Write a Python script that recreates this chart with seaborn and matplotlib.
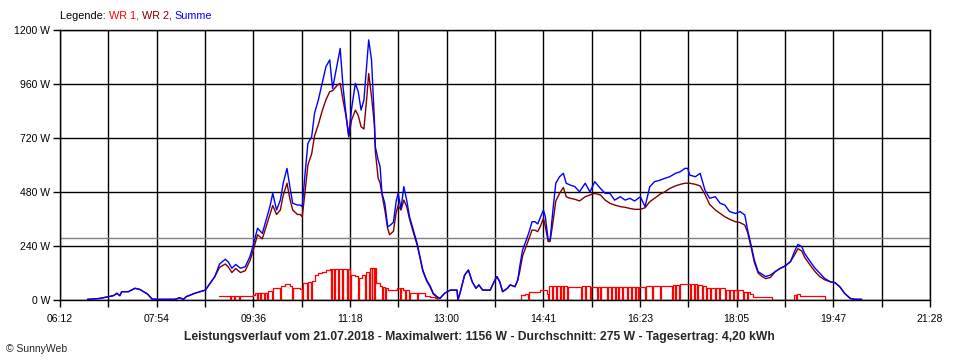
import numpy as np
import pandas as pd
import matplotlib
matplotlib.use("Agg")
import matplotlib.pyplot as plt
import seaborn as sns

# Zeit in Minuten nach Mitternacht, Leistung in W
minute = [401, 409, 414, 423, 428, 432, 435, 437, 444, 451, 456, 464, 469, 477, 493, 498, 502, 505,
          514, 525, 530, 535, 540, 546, 549, 553, 557, 562, 567, 572, 575, 580, 585, 589, 593, 596,
          600, 604, 607, 611, 614, 617, 622, 625, 627, 630, 633, 637, 640, 644, 648, 652, 656, 659,
          664, 667, 670, 673, 676, 679, 683, 686, 689, 692, 695, 697, 700, 703, 704, 707, 709, 711,
          714, 717, 719, 723, 726, 728, 731, 734, 737, 740, 744, 748, 751, 754, 758, 762, 765, 769,
          772, 777, 783, 790, 791, 794, 798, 802, 806, 810, 813, 817, 825, 829, 832, 835, 838, 843,
          846, 851, 854, 856, 859, 863, 866, 869, 872, 875, 878, 881, 883, 886, 888, 891, 894, 898,
          902, 905, 909, 914, 919, 925, 930, 935, 941, 946, 951, 956, 962, 967, 972, 977, 983, 988,
          993, 998, 1004, 1009, 1014, 1020, 1025, 1030, 1033, 1035, 1041, 1046, 1051, 1056, 1062,
          1067, 1072, 1077, 1083, 1088, 1093, 1096, 1100, 1103, 1107, 1111, 1115, 1120, 1125, 1130,
          1135, 1141, 1146, 1149, 1153, 1156, 1162, 1167, 1172, 1177, 1183, 1188, 1193, 1198, 1204,
          1209, 1216]
summe = [3, 5, 7, 15, 19, 30, 19, 37, 37, 52, 47, 27, 4, 3, 3, 10, 3, 15,
         30, 44, 74, 104, 160, 181, 170, 141, 158, 141, 148, 193, 237, 319, 296, 356, 415, 474,
         400, 444, 519, 585, 504, 430, 422, 422, 415, 560, 696, 726, 830, 889, 963, 1037, 1067, 940,
         1052, 1118, 948, 830, 730, 850, 963, 926, 844, 889, 1052, 1156, 1067, 800, 681, 622, 593, 474,
         430, 326, 330, 345, 440, 474, 405, 504, 444, 370, 311, 252, 193, 133, 89, 60, 30, 15,
         7, 30, 44, 44, 0, 44, 111, 133, 81, 52, 67, 44, 44, 81, 104, 81, 37, 52,
         67, 59, 89, 148, 222, 267, 304, 348, 348, 338, 370, 400, 370, 267, 267, 400, 519, 548,
         563, 519, 511, 504, 481, 519, 480, 526, 496, 474, 474, 444, 459, 444, 452, 440, 459, 415,
         504, 526, 533, 541, 548, 563, 570, 585, 585, 555, 548, 563, 489, 452, 459,
         430, 422, 393, 385, 393, 378, 311, 237, 178, 126, 115, 104, 111, 126, 140,
         150, 170, 222, 247, 237, 207, 170, 141, 119, 96, 81, 77, 59, 30, 7,
         3, 3]
wr2 = [3, 5, 7, 15, 19, 30, 19, 37, 37, 52, 47, 27, 4, 3, 3, 10, 3, 15,
       30, 44, 74, 104, 145, 160, 148, 122, 140, 122, 130, 175, 215, 290, 272, 326, 380, 420,
       380, 400, 465, 519, 450, 400, 380, 380, 370, 480, 600, 650, 730, 780, 840, 890, 926, 930,
       955, 963, 889, 820, 725, 800, 844, 820, 770, 760, 900, 1007, 904, 780, 660, 541, 520, 470,
       400, 318, 290, 305, 390, 420, 400, 444, 415, 360, 300, 245, 188, 128, 85, 55, 26, 12,
       7, 30, 44, 44, 0, 44, 111, 133, 81, 52, 67, 44, 44, 81, 104, 81, 37, 52,
       67, 59, 89, 126, 195, 240, 275, 311, 310, 304, 330, 363, 326, 260, 260, 345, 440, 474,
       500, 459, 452, 448, 440, 459, 467, 474, 467, 444, 430, 422, 415, 412, 407, 403, 403, 410,
       437, 452, 471, 481, 496, 507, 514, 519, 519, 519, 514, 507, 470, 425, 400,
       385, 370, 359, 348, 344, 333, 300, 228, 168, 120, 105, 95, 100, 126, 140,
       150, 170, 205, 228, 218, 190, 154, 126, 104, 90, 81, 77, 59, 30, 7,
       3, 3]

# WR 1 als Treppenkurve (Minute, W) mit den kurzen Ausfaellen auf 0 W
wr1_punkte = [
    (539, 18), (551, 0), (552, 18), (555, 0), (556, 18), (560, 0), (561, 20), (575, 22), (577, 30),
    (579, 0), (580, 30), (583, 0), (584, 30), (587, 0), (588, 30), (590, 0), (591, 40), (595, 0),
    (596, 52), (604, 0), (605, 64), (609, 70), (614, 64), (616, 0), (617, 52), (625, 49), (627, 0),
    (628, 76), (632, 0), (633, 80), (636, 0), (637, 86), (640, 111), (644, 118), (648, 125),
    (652, 132), (656, 138), (657, 0), (658, 138), (661, 0), (662, 138), (665, 0), (666, 138),
    (669, 0), (670, 138), (674, 0), (675, 138), (677, 0), (678, 111), (683, 105), (686, 0),
    (687, 100), (688, 98), (690, 110), (693, 0), (694, 125), (697, 0), (698, 141), (700, 0),
    (701, 141), (703, 0), (704, 141), (705, 76), (709, 62), (711, 0), (712, 59), (714, 0), (715, 52),
    (717, 44), (727, 52), (730, 0), (731, 52), (733, 44), (735, 0), (736, 44), (739, 0), (740, 33),
    (748, 0), (749, 30), (756, 18), (762, 12), (767, 7), (769, 0),
    (857, 22), (862, 27), (865, 0), (866, 37), (877, 44), (885, 27), (886, 0), (887, 62), (890, 0),
    (891, 62), (894, 0), (895, 62), (898, 0), (899, 62), (902, 0), (903, 62), (906, 0), (907, 59),
    (921, 0), (922, 62), (925, 0), (926, 62), (930, 0), (931, 59), (937, 0), (938, 59), (941, 0),
    (942, 59), (948, 0), (949, 59), (952, 0), (953, 59), (956, 0), (957, 59), (960, 0), (961, 59),
    (964, 0), (965, 59), (969, 0), (970, 59), (973, 0), (974, 59), (977, 0), (978, 59), (981, 0),
    (982, 58), (988, 0), (989, 62), (995, 0), (996, 62), (1004, 0), (1005, 62), (1016, 0), (1017, 67),
    (1020, 0), (1021, 67), (1024, 0), (1025, 70), (1035, 0), (1036, 70), (1040, 0), (1041, 70),
    (1043, 0), (1044, 67), (1048, 0), (1049, 62), (1052, 0), (1053, 52), (1056, 0), (1057, 52),
    (1062, 0), (1063, 52), (1066, 0), (1067, 52), (1072, 0), (1073, 44), (1076, 0), (1077, 44),
    (1081, 0), (1082, 44), (1085, 0), (1086, 44), (1091, 0), (1092, 37), (1095, 0), (1096, 37),
    (1098, 27), (1102, 15), (1122, 0),
    (1145, 22), (1147, 0), (1148, 27), (1151, 19), (1177, 0),
]

x_ticklabels = ["06:12", "", "07:54", "", "09:36", "", "11:18", "", "13:00", "",
                "14:41", "", "16:23", "", "18:05", "", "19:47", "", "21:28"]
y_ticks = [0, 240, 480, 720, 960, 1200]
durchschnitt = 275
titel = ("Leistungsverlauf vom 21.07.2018 - Maximalwert: 1156 W - Durchschnitt: 275 W"
         " - Tagesertrag: 4,20 kWh")

df = pd.DataFrame({"Minute": minute, "Summe": summe, "WR 2": wr2})
df_wr1 = pd.DataFrame(wr1_punkte, columns=["Minute", "WR 1"])

sns.set_style("white")
plt.rcParams["font.family"] = ["Liberation Sans", "DejaVu Sans"]

fig = plt.figure(figsize=(9.6, 3.6), dpi=100)
ax = fig.add_axes([60 / 960, 60 / 360, 870 / 960, 270 / 360])

ax.axhline(durchschnitt, color="#808080", lw=1.0, zorder=1)
sns.lineplot(data=df_wr1, x="Minute", y="WR 1", color="#ff0000", lw=0.9,
             drawstyle="steps-post", ax=ax, zorder=2)
sns.lineplot(data=df, x="Minute", y="WR 2", color="#800000", lw=1.0, ax=ax, zorder=3)
sns.lineplot(data=df, x="Minute", y="Summe", color="#0000ff", lw=1.0, ax=ax, zorder=4)

ax.set_xlim(372, 1288)
ax.set_ylim(0, 1200)
ax.set_xticks(np.linspace(372, 1288, 19))
ax.set_xticklabels(x_ticklabels)
ax.set_yticks(y_ticks)
ax.set_yticklabels([f"{v} W" for v in y_ticks])
ax.set_xlabel("")
ax.set_ylabel("")
ax.grid(True, color="black", lw=1.0)
ax.set_axisbelow(True)
for sp in ax.spines.values():
    sp.set_color("black")
    sp.set_linewidth(1.0)
ax.tick_params(axis="both", direction="out", length=5, width=1.0, color="black",
               labelsize=7.5, labelcolor="black", bottom=True, left=True)
ax.tick_params(axis="x", pad=5)
ax.tick_params(axis="y", pad=2)

fig.text(479.5 / 960, 1 - 337 / 360, titel, ha="center", va="center",
         fontsize=8.7, fontweight="bold")
fig.text(6 / 960, 1 - 349 / 360, "© SunnyWeb", ha="left", va="center", fontsize=7.5)

# Legende oben links, farbig zusammengesetzt
fig.canvas.draw()
r = fig.canvas.get_renderer()
xpos = 60 / 960
for teil, farbe in [("Legende: ", "black"), ("WR 1, ", "#ff0000"),
                    ("WR 2, ", "#800000"), ("Summe", "#0000ff")]:
    t = fig.text(xpos, 1 - 16 / 360, teil, color=farbe, ha="left", va="center", fontsize=7.8)
    xpos = t.get_window_extent(r).x1 / 960

fig.savefig("out.png", dpi=100, facecolor="white")
